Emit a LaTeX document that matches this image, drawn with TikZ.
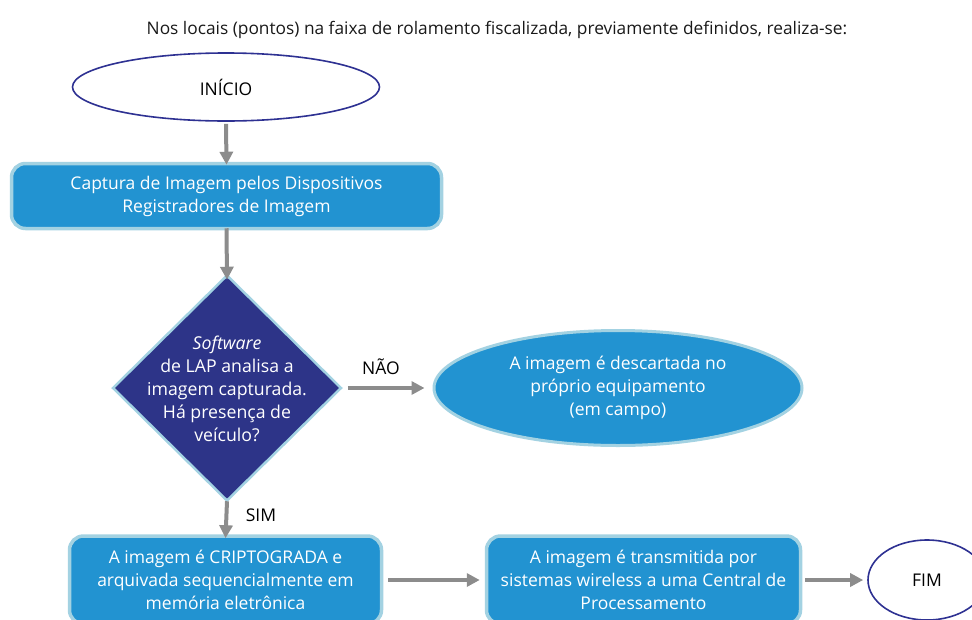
\documentclass[tikz,border=0pt]{standalone}
\usepackage{fontspec}
\setmainfont{Open Sans}
\usetikzlibrary{shapes.geometric,shapes.misc,arrows.meta}
\definecolor{boxblue}{HTML}{2293D1}
\definecolor{edgeblue}{HTML}{A3D2E2}
\definecolor{navy}{HTML}{2D3488}
\definecolor{ringnavy}{HTML}{2E3192}
\definecolor{arrgray}{HTML}{8C8C8C}
\tikzset{
  x=1pt, y=-1pt,
  bluebox/.style={draw=edgeblue, line width=3.5pt, fill=boxblue, rounded corners=14pt,
    text=white, align=center, inner sep=0pt, font=\fontsize{17.5}{23}\selectfont},
  termoval/.style={ellipse, draw=ringnavy, line width=1.6pt, fill=white, inner sep=0pt,
    font=\fontsize{17.5}{20}\selectfont},
  flowarrow/.style={draw=arrgray, line width=4pt, -{Triangle[length=13pt,width=13pt]}},
  lbl/.style={font=\fontsize{17.5}{20}\selectfont, inner sep=0pt}
}
\begin{document}
\begin{tikzpicture}
\useasboundingbox (0,0) rectangle (972,619);
\clip (0,0) rectangle (972,619);
\node[font=\fontsize{17.3}{20}\selectfont, text=black!90] (title) at (497,30)
  {Nos locais (pontos) na faixa de rolamento fiscalizada, previamente definidos, realiza-se:};
\node[termoval, minimum width=307pt, minimum height=68pt] (inicio) at (226,87) {INÍCIO};
\node[bluebox, minimum width=430pt, minimum height=65pt] (cap) at (226.5,196)
  {Captura de Imagem pelos Dispositivos\\Registradores de Imagem};
\node[diamond, draw=edgeblue, line width=2.5pt, fill=navy, minimum width=229pt,
  minimum height=226pt, inner sep=0pt] (dec) at (227,388) {};
\node[text=white, align=center, inner sep=0pt, font=\fontsize{17.7}{23}\selectfont] (dectext) at (227,389)
  {\textit{Software}\\de LAP analisa a\\imagem capturada.\\Há presença de\\veículo?};
\node[ellipse, draw=edgeblue, line width=3pt, fill=boxblue, minimum width=368pt,
  minimum height=115pt, inner sep=0pt, text=white, align=center,
  font=\fontsize{17.5}{23}\selectfont] (desc) at (618,388)
  {A imagem é descartada no\\próprio equipamento\\(em campo)};
\node[bluebox, minimum width=312pt, minimum height=88pt] (cripto) at (225.5,580)
  {A imagem é CRIPTOGRADA e\\arquivada sequencialmente em\\memória eletrônica};
\node[bluebox, minimum width=314pt, minimum height=88pt] (trans) at (643.5,580)
  {A imagem é transmitida por\\sistemas wireless a uma Central de\\Processamento};
\node[termoval, minimum width=118pt, minimum height=80pt] (fim) at (927,580) {FIM};
\node[lbl] (nao) at (381,367) {NÃO};
\node[lbl] (sim) at (261,515) {SIM};
\draw[flowarrow] (inicio.south) ++(0,2) -- ([yshift=-3pt]cap.north);
\draw[flowarrow] ([yshift=2pt]cap.south) -- ([yshift=-6pt]dec.north);
\draw[flowarrow] ([xshift=5pt]dec.east) -- ([xshift=-8pt]desc.west);
\draw[flowarrow] ([yshift=1pt]dec.south) -- ([yshift=-4pt]cripto.north);
\draw[flowarrow] ([xshift=5pt]cripto.east) -- ([xshift=-5pt]trans.west);
\draw[flowarrow] ([xshift=3pt]trans.east) -- ([xshift=-4pt]fim.west);
\end{tikzpicture}
\end{document}
